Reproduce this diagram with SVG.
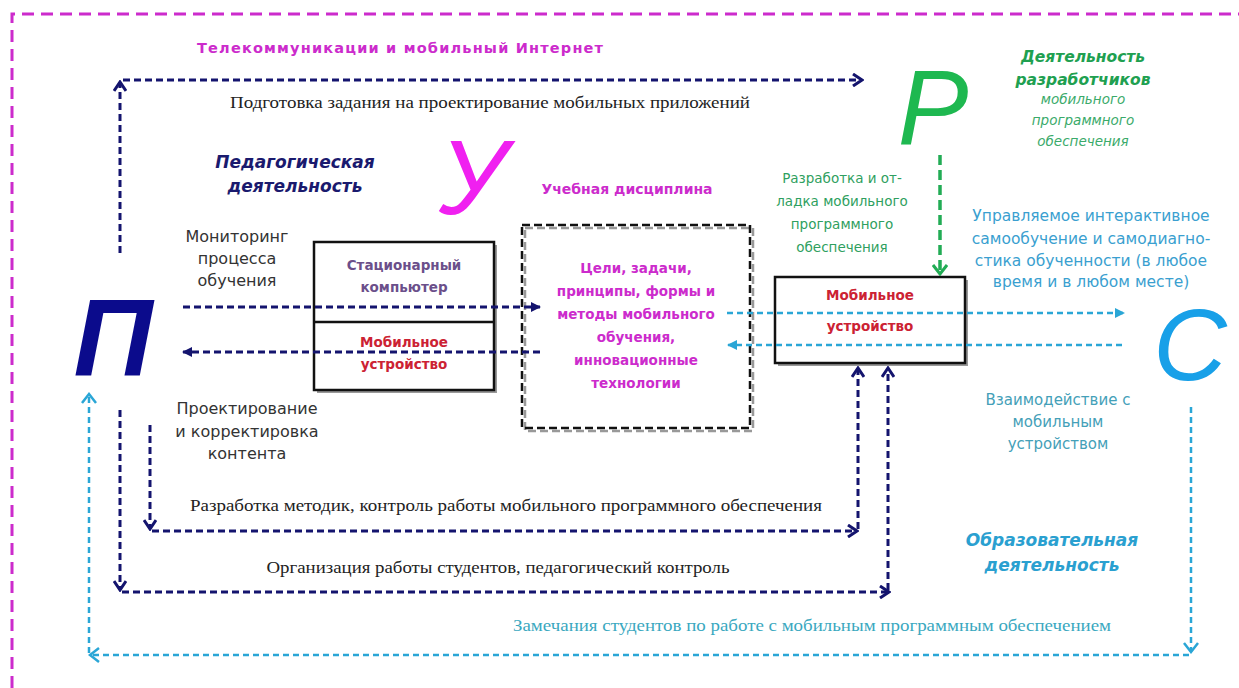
<svg xmlns="http://www.w3.org/2000/svg" width="1239" height="688" viewBox="0 0 1239 688">
<style>
.serif{font-family:"Liberation Serif","Times New Roman",serif;font-size:17px}
.sans{font-family:"DejaVu Sans","Noto Sans",sans-serif}
.nav{fill:none;stroke:#14146e;stroke-width:3;stroke-dasharray:7 4}
.cy{fill:none;stroke:#2aa6d6;stroke-width:2.5;stroke-dasharray:6 4}
.gr{fill:none;stroke:#22ac55;stroke-width:3.5;stroke-dasharray:10 5}
.big{font-family:"Liberation Sans",Arial,sans-serif;font-style:italic}
.box{fill:#fff;stroke:#111;stroke-width:2.5}
.shadow{fill:#999}
</style>
<defs>
<marker id="chN" viewBox="0 0 12 14" refX="10" refY="7" markerWidth="12" markerHeight="14" orient="auto" markerUnits="userSpaceOnUse"><path d="M1,1 L10,7 L1,13" fill="none" stroke="#14146e" stroke-width="3"/></marker>
<marker id="chC" viewBox="0 0 12 16" refX="10" refY="8" markerWidth="12" markerHeight="16" orient="auto" markerUnits="userSpaceOnUse"><path d="M1,1 L10,8 L1,15" fill="none" stroke="#2aa6d6" stroke-width="2.5"/></marker>
<marker id="chG" viewBox="0 0 12 16" refX="10" refY="8" markerWidth="12" markerHeight="16" orient="auto" markerUnits="userSpaceOnUse"><path d="M1,1 L10,8 L1,15" fill="none" stroke="#22ac55" stroke-width="3"/></marker>
<marker id="trN" viewBox="0 0 10 10" refX="9" refY="5" markerWidth="10" markerHeight="10" orient="auto" markerUnits="userSpaceOnUse"><path d="M0,0 L10,5 L0,10 z" fill="#14146e"/></marker>
<marker id="trC" viewBox="0 0 10 10" refX="9" refY="5" markerWidth="10" markerHeight="10" orient="auto" markerUnits="userSpaceOnUse"><path d="M0,0 L10,5 L0,10 z" fill="#2aa6d6"/></marker>
</defs>
<rect width="1239" height="688" fill="#fff"/>
<g id="border"><path d="M12,688 V14 H1239" fill="none" stroke="#cc2bcc" stroke-width="3" stroke-dasharray="12 7"/></g>

<g id="title"><text x="400" y="53" class="sans" font-size="14.5" font-weight="bold" fill="#cc2bcc" text-anchor="middle" textLength="406">Телекоммуникации и мобильный Интернет</text></g>

<g id="node-P"><text x="113" y="375" class="big" font-weight="bold" font-size="110" fill="#0b0b8c" text-anchor="middle">П</text></g>
<g id="node-U"><text x="473" y="214" class="big" font-size="106" fill="#f020f0" text-anchor="middle">У</text></g>
<g id="node-R"><text x="933" y="144" class="big" font-size="106" fill="#1eb850" text-anchor="middle">Р</text></g>
<g id="node-S"><text x="1190" y="380" class="big" font-size="102" fill="#18a0e8" text-anchor="middle">С</text></g>

<g id="label-ped" class="sans" font-weight="bold" font-style="italic" font-size="17" fill="#1a1a6e" text-anchor="middle">
<text x="295" y="168">Педагогическая</text><text x="295" y="192">деятельность</text></g>

<g id="label-dev" class="sans" fill="#20a050" text-anchor="middle">
<text x="1083" y="62" font-weight="bold" font-style="italic" font-size="15.5">Деятельность</text>
<text x="1083" y="85" font-weight="bold" font-style="italic" font-size="15.5">разработчиков</text>
<text x="1083" y="104" font-style="italic" font-size="13.5" fill="#3aaa6a">мобильного</text>
<text x="1083" y="125" font-style="italic" font-size="13.5" fill="#3aaa6a">программного</text>
<text x="1083" y="146" font-style="italic" font-size="13.5" fill="#3aaa6a">обеспечения</text></g>

<g id="label-disc"><text x="627" y="194" class="sans" font-weight="bold" font-size="14" fill="#cc2bcc" text-anchor="middle">Учебная дисциплина</text></g>

<g id="label-devwork" class="sans" font-size="13.5" fill="#2f9f60" text-anchor="middle">
<text x="842" y="183">Разработка и от-</text><text x="842" y="206">ладка мобильного</text><text x="842" y="229">программного</text><text x="842" y="252">обеспечения</text></g>

<g id="label-self" class="sans" font-size="15.5" fill="#3a9fd0" text-anchor="middle">
<text x="1091" y="221">Управляемое интерактивное</text><text x="1091" y="244">самообучение и самодиагно-</text><text x="1091" y="266">стика обученности (в любое</text><text x="1091" y="287">время и в любом месте)</text></g>

<g id="label-mon" class="sans" font-size="16" fill="#333" text-anchor="middle">
<text x="237" y="242">Мониторинг</text><text x="237" y="264">процесса</text><text x="237" y="286">обучения</text></g>

<g id="label-proj" class="sans" font-size="16" fill="#333" text-anchor="middle">
<text x="247" y="414">Проектирование</text><text x="247" y="437">и корректировка</text><text x="247" y="459">контента</text></g>

<g id="label-inter" class="sans" font-size="15" fill="#44a0b8" text-anchor="middle">
<text x="1058" y="405">Взаимодействие с</text><text x="1058" y="427">мобильным</text><text x="1058" y="449">устройством</text></g>

<g id="label-edu" class="sans" font-weight="bold" font-style="italic" font-size="17" fill="#2aa0d0" text-anchor="middle">
<text x="1052" y="546">Образовательная</text><text x="1052" y="571">деятельность</text></g>

<g id="node-devices">
<rect x="317" y="245" width="180" height="148" class="shadow"/>
<rect x="314" y="242" width="180" height="148" class="box"/>
<line x1="314" y1="322" x2="494" y2="322" stroke="#111" stroke-width="2.5"/>
<g class="sans" font-weight="bold" font-size="13.5" text-anchor="middle">
<text x="404" y="270" fill="#6b4f8a">Стационарный</text><text x="404" y="292" fill="#6b4f8a">компьютер</text>
<text x="404" y="347" fill="#cc2233">Мобильное</text><text x="404" y="369" fill="#cc2233">устройство</text></g></g>

<g id="node-discipline">
<rect x="525" y="228" width="228" height="203" fill="none" stroke="#999" stroke-width="2.5" stroke-dasharray="8 4"/>
<rect x="522" y="225" width="228" height="203" fill="none" stroke="#111" stroke-width="2.5" stroke-dasharray="8 4"/>
<g class="sans" font-weight="bold" font-size="13.5" fill="#cc2bcc" text-anchor="middle">
<text x="636" y="273">Цели, задачи,</text><text x="636" y="296">принципы, формы и</text><text x="636" y="319">методы мобильного</text><text x="636" y="342">обучения,</text><text x="636" y="365">инновационные</text><text x="636" y="388">технологии</text></g></g>

<g id="node-mobile">
<rect x="778" y="280" width="190" height="86" class="shadow"/>
<rect x="775" y="277" width="190" height="86" class="box"/>
<g class="sans" font-weight="bold" font-size="13.5" fill="#cc2233" text-anchor="middle">
<text x="870" y="300">Мобильное</text><text x="870" y="331">устройство</text></g></g>

<g id="connectors">
<path d="M120,253 V82" class="nav" stroke-width="2.5" marker-end="url(#chN)"/>
<path d="M123,80 H862" class="nav" stroke-width="2.5" stroke-dasharray="6 3" marker-end="url(#chN)"/>
<path d="M183,307 H540" class="nav" marker-end="url(#trN)"/>
<path d="M540,352 H183" class="nav" marker-end="url(#trN)"/>
<path d="M150,425 V529" class="nav" marker-end="url(#chN)"/>
<path d="M152,531 H857" class="nav" marker-end="url(#chN)"/>
<path d="M858,529 V368" class="nav" marker-end="url(#chN)"/>
<path d="M120,410 V590" class="nav" marker-end="url(#chN)"/>
<path d="M122,592 H889" class="nav" marker-end="url(#chN)"/>
<path d="M888,590 V368" class="nav" stroke-width="2.5" marker-end="url(#chN)"/>
<path d="M727,313 H1124" class="cy" marker-end="url(#trC)"/>
<path d="M1122,345 H728" class="cy" marker-end="url(#trC)"/>
<path d="M1191,407 V652" class="cy" marker-end="url(#chC)"/>
<path d="M1189,655 H90" class="cy" stroke-width="3" marker-end="url(#chC)"/>
<path d="M89,653 V394" class="cy" stroke="#40a8c8" marker-end="url(#chC)"/>
<path d="M940,155 V274" class="gr" marker-end="url(#chG)"/>
</g>

<g id="connector-labels">
<text x="490" y="108" class="serif" fill="#222" text-anchor="middle" textLength="520" lengthAdjust="spacingAndGlyphs">Подготовка задания на проектирование мобильных приложений</text>
<text x="506" y="511" class="serif" fill="#222" text-anchor="middle" textLength="632" lengthAdjust="spacingAndGlyphs">Разработка методик, контроль работы мобильного программного обеспечения</text>
<text x="498" y="573" class="serif" fill="#222" text-anchor="middle" textLength="463" lengthAdjust="spacingAndGlyphs">Организация работы студентов, педагогический контроль</text>
<text x="812" y="631" class="serif" fill="#3aa8c0" text-anchor="middle" textLength="598" lengthAdjust="spacingAndGlyphs">Замечания студентов по работе с мобильным программным обеспечением</text>
</g>
</svg>
